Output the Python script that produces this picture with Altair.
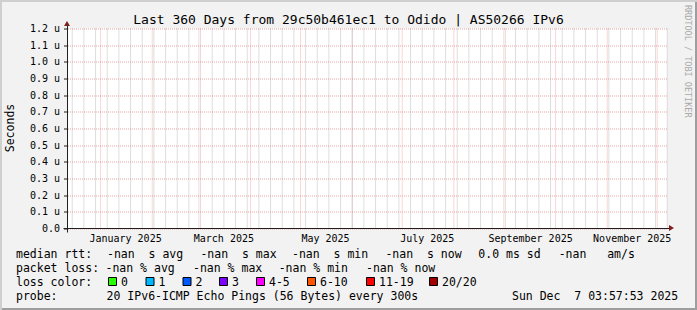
import altair as alt
import pandas as pd

# ---------------- data ----------------
TITLE = "Last 360 Days from 29c50b461ec1 to Odido | AS50266 IPv6"
Y_LABEL = "Seconds"
WATERMARK = "RRDTOOL / TOBI OETIKER"
START = "2024-12-12 03:57:53"
END = "2025-12-07 03:57:53"
FIRST_SUNDAY = "2024-12-15"
Y_MAX = 1.2
Y_TICKS = [0.0, 0.1, 0.2, 0.3, 0.4, 0.5, 0.6, 0.7, 0.8, 0.9, 1.0, 1.1, 1.2]
MONTH_STARTS = ["2025-01-01", "2025-02-01", "2025-03-01", "2025-04-01", "2025-05-01", "2025-06-01",
                "2025-07-01", "2025-08-01", "2025-09-01", "2025-10-01", "2025-11-01", "2025-12-01"]
LABEL_DATES = ["2025-01-16", "2025-03-16", "2025-05-16", "2025-07-16", "2025-09-16", "2025-11-16"]
LABEL_TEXT = ["January 2025", "March 2025", "May 2025", "July 2025", "September 2025", "November 2025"]
RTT_TEXT = ["median rtt:", "-nan  s avg", "-nan  s max", "-nan  s min", "-nan  s now", "0.0 ms sd", "-nan   am/s"]
LOSS_TEXT = ["packet loss:", "-nan % avg", "-nan % max", "-nan % min", "-nan % now"]
LOSS_COLOR_TITLE = "loss color:"
LOSS_LABELS = ["0", "1", "2", "3", "4-5", "6-10", "11-19", "20/20"]
LOSS_COLORS = ["#26ff00", "#00b8ff", "#0059ff", "#7e00ff", "#ff00ff", "#ff5500", "#ff0000", "#a10000"]
PROBE_TEXT = ["probe:", "20 IPv6-ICMP Echo Pings (56 Bytes) every 300s", "Sun Dec  7 03:57:53 2025"]

# ---------------- layout / style ----------------
FONT = "DejaVu Sans Mono"
W, H = 600, 200
LEFT, TOP = 67.5, 28.5
CW, CH = 697, 310
BG = "#F2F2F2"
AXIS = "#1F1F1F"
ARROW = "#801F1F"
MGRID = "#DE4F4F"
GRID = "#8F8F8F"

RTT_X = [16, 107, 200.4, 292, 385.4, 478.3, 558.7]
LOSS_X = [16, 105.5, 193, 278.7, 366]
BOX_X = [108, 145.5, 182.5, 219, 256, 307, 366, 429]
PROBE_X = [16, 106.6, 512]
ROW_Y = [257.5, 271.5, 285.5, 299.5]


def ms(s):
    t = pd.Timestamp(s)
    if t.tzinfo is None:
        t = t.tz_localize("UTC")
    return int(t.value // 1_000_000)


def nb(s):
    return s.replace(" ", "\u00a0")


xscale = alt.Scale(domain=[ms(START), ms(END)])
one = pd.DataFrame({"v": [0.0]})

weeks = pd.DataFrame({"d": [ms(d) for d in pd.date_range(FIRST_SUNDAY, END, freq="7D")]})
months = pd.DataFrame({"d": [ms(d) for d in MONTH_STARTS]})
labels = pd.DataFrame({"d": [ms(d) for d in LABEL_DATES], "t": LABEL_TEXT})

minor = alt.Chart(weeks).mark_rule(color=GRID, opacity=0.6, strokeDash=[1, 1], strokeWidth=1).encode(
    x=alt.X("d:T", scale=xscale, axis=None))
major = alt.Chart(months).mark_rule(color=MGRID, opacity=0.45, strokeDash=[1, 1], strokeWidth=1).encode(
    x=alt.X("d:T", scale=xscale, axis=None))

xlabels = alt.Chart(labels).mark_text(font=FONT, fontSize=10, align="center", baseline="alphabetic",
                                      color="#000000").encode(
    x=alt.X("d:T", scale=xscale, axis=None), y=alt.value(241.5 - TOP), text="t:N")

xaxis = alt.Chart(one).mark_rule(color=AXIS, strokeWidth=1).encode(
    x=alt.value(-4), x2=alt.value(W + 4),
    y=alt.Y("v:Q", scale=alt.Scale(domain=[0, Y_MAX], nice=False, zero=False),
            axis=alt.Axis(values=Y_TICKS, title=None, domain=False, ticks=True, tickSize=4,
                          tickColor=AXIS, tickWidth=1, labelFont=FONT, labelFontSize=10,
                          labelColor="#000000", labelPadding=4, labelOverlap=False,
                          labelBaseline="middle",
                          labelExpr="datum.value == 0 ? '0.0' : format(datum.value, '.1f') + '\u00a0u'",
                          grid=True, gridColor=MGRID, gridOpacity=0.5, gridDash=[1, 1], gridWidth=1)))
yaxis = alt.Chart(one).mark_rule(color=AXIS, strokeWidth=1).encode(
    x=alt.value(0), y=alt.value(-4), y2=alt.value(H + 4))

arrow_r = alt.Chart(one).mark_point(shape="M-0.5,-0.6L-0.5,0.6L0.5,0Z", filled=True, color=ARROW,
                                    opacity=1, size=100, strokeWidth=0).encode(
    x=alt.value(604), y=alt.value(199.5))
arrow_u = alt.Chart(one).mark_point(shape="M-0.6,0.5L0.6,0.5L0,-0.5Z", filled=True, color=ARROW,
                                    opacity=1, size=100, strokeWidth=0).encode(
    x=alt.value(-0.5), y=alt.value(-5))


def text_layer(rows, size, color="#000000", align="left", angle=0, baseline="alphabetic"):
    df = pd.DataFrame(rows, columns=["t", "x", "y"])
    return alt.Chart(df).mark_text(font=FONT, fontSize=size, color=color, align=align,
                                   baseline=baseline, angle=angle).encode(
        x=alt.X("x:Q", scale=None, axis=None), y=alt.Y("y:Q", scale=None, axis=None), text="t:N")


legend_rows = []
for t, x in zip(RTT_TEXT, RTT_X):
    legend_rows.append((nb(t), x - LEFT, ROW_Y[0] - TOP))
for t, x in zip(LOSS_TEXT, LOSS_X):
    legend_rows.append((nb(t), x - LEFT, ROW_Y[1] - TOP))
legend_rows.append((nb(LOSS_COLOR_TITLE), 16 - LEFT, ROW_Y[2] - TOP))
for t, x in zip(LOSS_LABELS, BOX_X):
    legend_rows.append((t, x + 13 - LEFT, ROW_Y[2] - TOP))
for t, x in zip(PROBE_TEXT, PROBE_X):
    legend_rows.append((nb(t), x - LEFT, ROW_Y[3] - TOP))
legend = text_layer(legend_rows, 11.5)

title = text_layer([(nb(TITLE), 348.5 - LEFT, 24 - TOP)], 13, align="center")
ytitle = text_layer([(Y_LABEL, 11 - LEFT, 128 - TOP)], 11.5, align="center", angle=270, baseline="middle")
water = text_layer([(nb(WATERMARK), 688 - LEFT, 5 - TOP)], 8.5, color="#A9A9A9", align="left",
                   angle=90, baseline="middle")

boxes_df = pd.DataFrame({
    "x": [bx + 0.5 - LEFT for bx in BOX_X],
    "x2": [bx + 8.5 - LEFT for bx in BOX_X],
    "y": [277.5 - TOP] * len(BOX_X),
    "y2": [285.5 - TOP] * len(BOX_X),
    "c": LOSS_COLORS,
})
boxes = alt.Chart(boxes_df).mark_rect(stroke="#000000", strokeWidth=1, opacity=1).encode(
    x=alt.X("x:Q", scale=None, axis=None), x2="x2:Q",
    y=alt.Y("y:Q", scale=None, axis=None), y2="y2:Q",
    fill=alt.Fill("c:N", scale=None))

b_top = alt.Chart(one).mark_rule(color="#CFCFCF", strokeWidth=2).encode(
    x=alt.value(-LEFT), x2=alt.value(CW - LEFT), y=alt.value(1 - TOP))
b_left = alt.Chart(one).mark_rule(color="#CFCFCF", strokeWidth=2).encode(
    x=alt.value(1 - LEFT), y=alt.value(-TOP), y2=alt.value(CH - TOP))
b_bottom = alt.Chart(one).mark_rule(color="#9E9E9E", strokeWidth=2).encode(
    x=alt.value(2 - LEFT), x2=alt.value(CW - LEFT), y=alt.value(CH - 1 - TOP))
b_right = alt.Chart(one).mark_rule(color="#9E9E9E", strokeWidth=2).encode(
    x=alt.value(CW - 1 - LEFT), y=alt.value(2 - TOP), y2=alt.value(CH - TOP))

chart = alt.layer(
    minor, major, xaxis, yaxis, arrow_r, arrow_u, xlabels, legend, boxes, title, ytitle, water,
    b_top, b_left, b_bottom, b_right,
).properties(
    width=W, height=H, background=BG,
    padding={"left": LEFT, "top": TOP, "right": CW - W - LEFT, "bottom": CH - H - TOP},
    autosize=alt.AutoSizeParams(type="none"),
).configure_view(fill="#FFFFFF", stroke=None)

chart.save("out.html", embed_options={"renderer": "svg", "actions": False})
